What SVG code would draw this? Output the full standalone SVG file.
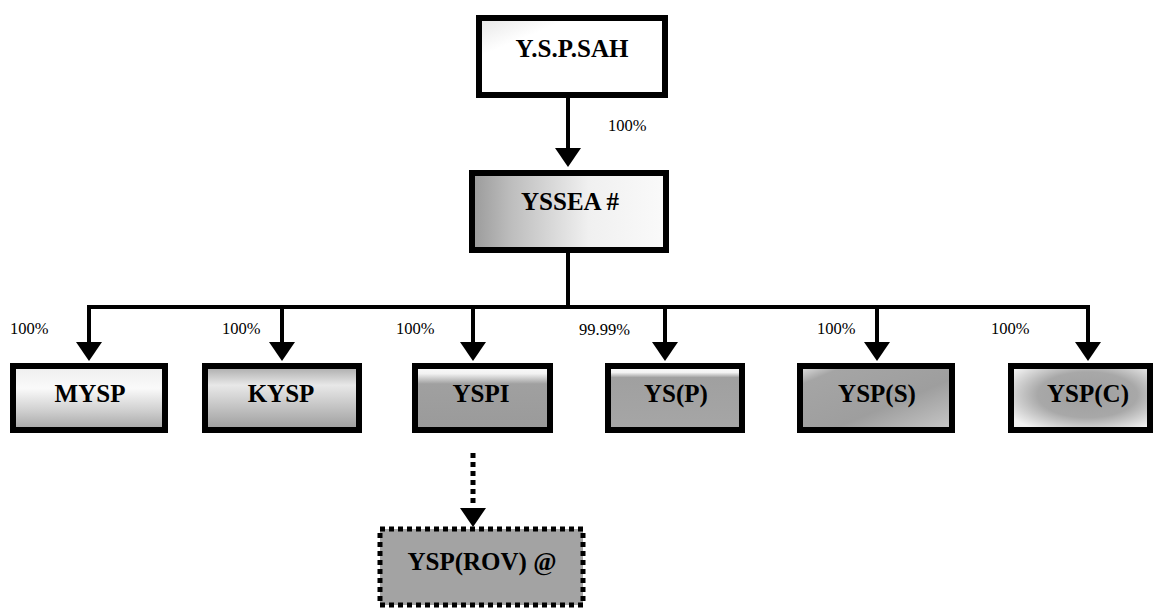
<svg xmlns="http://www.w3.org/2000/svg" width="1155" height="608" viewBox="0 0 1155 608">
<style>
.box{stroke:#000;stroke-width:6}
.dot{stroke:#000;stroke-width:5;stroke-dasharray:5 4}
.t{font-family:"Liberation Serif","DejaVu Serif","Times New Roman",serif;font-weight:bold;font-size:25px;fill:#000;text-anchor:middle}
.lbl{font-family:"Liberation Serif","DejaVu Serif","Times New Roman",serif;font-size:16.5px;fill:#000}
.ln{stroke:#000;stroke-width:4;fill:none}
.ah{fill:#000}
</style>
<defs>
<path id="arr" d="M-13,0 L13,0 L0,19 Z"/>
<linearGradient id="gSah" x1="0" y1="0" x2="1" y2="1"><stop offset="0" stop-color="#e6e6e6"/><stop offset="0.25" stop-color="#fff"/><stop offset="1" stop-color="#fff"/></linearGradient>
<linearGradient id="gYssea" x1="0" y1="0" x2="1" y2="0"><stop offset="0" stop-color="#9a9a9a"/><stop offset="0.2" stop-color="#bdbdbd"/><stop offset="0.6" stop-color="#f0f0f0"/><stop offset="1" stop-color="#fafafa"/></linearGradient>
<linearGradient id="gMysp" x1="0" y1="0" x2="0" y2="1"><stop offset="0" stop-color="#eee"/><stop offset="0.35" stop-color="#fafafa"/><stop offset="0.7" stop-color="#cfcfcf"/><stop offset="1" stop-color="#a5a5a5"/></linearGradient>
<linearGradient id="gKysp" x1="0" y1="0" x2="0" y2="1"><stop offset="0" stop-color="#a8a8a8"/><stop offset="0.3" stop-color="#e8e8e8"/><stop offset="0.6" stop-color="#c8c8c8"/><stop offset="1" stop-color="#9c9c9c"/></linearGradient>
<linearGradient id="gYspi" x1="0" y1="0" x2="0" y2="1"><stop offset="0" stop-color="#fcfcfc"/><stop offset="0.12" stop-color="#f2f2f2"/><stop offset="0.28" stop-color="#a0a0a0"/><stop offset="1" stop-color="#9a9a9a"/></linearGradient>
<linearGradient id="gYsp" x1="0" y1="0" x2="0" y2="1"><stop offset="0" stop-color="#fcfcfc"/><stop offset="0.1" stop-color="#f4f4f4"/><stop offset="0.18" stop-color="#a0a0a0"/><stop offset="1" stop-color="#a6a6a6"/></linearGradient>
<linearGradient id="gYsps" x1="0" y1="0" x2="1" y2="1"><stop offset="0" stop-color="#e6e6e6"/><stop offset="0.15" stop-color="#a5a5a5"/><stop offset="0.6" stop-color="#9e9e9e"/><stop offset="1" stop-color="#c8c8c8"/></linearGradient>
<radialGradient id="gYspc" cx="0.55" cy="0.45" r="0.65"><stop offset="0" stop-color="#9e9e9e"/><stop offset="0.55" stop-color="#a8a8a8"/><stop offset="1" stop-color="#f2f2f2"/></radialGradient>
</defs>

<g id="connectors">
<line class="ln" x1="568" y1="98" x2="568" y2="150"/>
<use href="#arr" class="ah" x="568" y="148"/>
<line class="ln" x1="568" y1="253" x2="568" y2="307"/>
<line class="ln" x1="87" y1="307" x2="1090" y2="307"/>
<line class="ln" x1="89" y1="305" x2="89" y2="344"/>
<line class="ln" x1="282" y1="305" x2="282" y2="344"/>
<line class="ln" x1="473" y1="305" x2="473" y2="344"/>
<line class="ln" x1="665" y1="305" x2="665" y2="344"/>
<line class="ln" x1="877" y1="305" x2="877" y2="344"/>
<line class="ln" x1="1088" y1="305" x2="1088" y2="344"/>
<use href="#arr" class="ah" x="89" y="342"/>
<use href="#arr" class="ah" x="282" y="342"/>
<use href="#arr" class="ah" x="473" y="342"/>
<use href="#arr" class="ah" x="665" y="342"/>
<use href="#arr" class="ah" x="877" y="342"/>
<use href="#arr" class="ah" x="1088" y="342"/>
<line x1="473" y1="453" x2="473" y2="505" stroke="#000" stroke-width="5" stroke-dasharray="5 4"/>
<use href="#arr" class="ah" x="473" y="508"/>
<text class="lbl" x="608" y="131">100%</text>
<text class="lbl" x="10" y="334">100%</text>
<text class="lbl" x="222" y="334">100%</text>
<text class="lbl" x="396" y="334">100%</text>
<text class="lbl" x="579" y="335">99.99%</text>
<text class="lbl" x="817" y="334">100%</text>
<text class="lbl" x="991" y="334">100%</text>
</g>

<g id="n-ysp-sah">
<rect class="box" x="479" y="18" width="186" height="77" fill="url(#gSah)"/>
<text class="t" x="572" y="57">Y.S.P.SAH</text>
</g>
<g id="n-yssea">
<rect class="box" x="472" y="173" width="194" height="77" fill="url(#gYssea)"/>
<text class="t" x="570" y="210">YSSEA #</text>
</g>
<g id="n-mysp">
<rect class="box" x="13" y="366" width="152" height="64" fill="url(#gMysp)"/>
<text class="t" x="90" y="402">MYSP</text>
</g>
<g id="n-kysp">
<rect class="box" x="205" y="366" width="154" height="64" fill="url(#gKysp)"/>
<text class="t" x="281" y="402">KYSP</text>
</g>
<g id="n-yspi">
<rect class="box" x="415" y="366" width="135" height="64" fill="url(#gYspi)"/>
<text class="t" x="481" y="402">YSPI</text>
</g>
<g id="n-ysp">
<rect class="box" x="608" y="366" width="134" height="64" fill="url(#gYsp)"/>
<text class="t" x="676" y="402">YS(P)</text>
</g>
<g id="n-ysps">
<rect class="box" x="800" y="366" width="152" height="64" fill="url(#gYsps)"/>
<text class="t" x="877" y="402">YSP(S)</text>
</g>
<g id="n-yspc">
<rect class="box" x="1011" y="366" width="139" height="64" fill="url(#gYspc)"/>
<text class="t" x="1088" y="402">YSP(C)</text>
</g>
<g id="n-ysprov">
<rect class="dot" x="380" y="529" width="203" height="76" fill="#a3a3a3"/>
<text class="t" x="482" y="570">YSP(ROV) @</text>
</g>
</svg>
